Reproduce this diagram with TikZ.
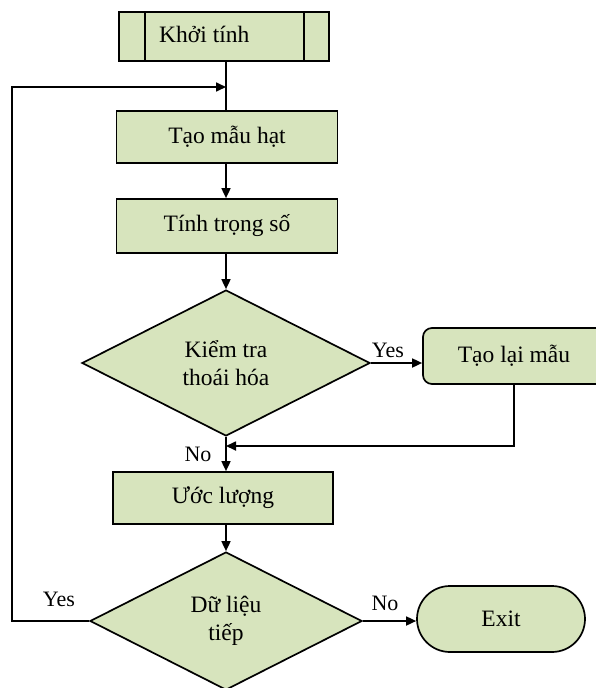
\documentclass[tikz,border=0pt]{standalone}
\usepackage{fontspec}
\setmainfont{Liberation Serif}
\usetikzlibrary{shapes.geometric,arrows.meta}
\definecolor{boxfill}{HTML}{D7E4BD}
\tikzset{
  txt/.style={font=\fontsize{23.5}{28}\selectfont},
  proc/.style={draw=black, line width=1.7pt, fill=boxfill, inner sep=0pt, txt},
  dec/.style={diamond, draw=black, line width=1.7pt, fill=boxfill, inner sep=0pt, aspect=2, align=center, txt},
  conn/.style={line width=1.7pt, -{Triangle[length=10pt,width=9pt]}},
  plain/.style={line width=1.7pt},
  lbl/.style={font=\fontsize{22}{24}\selectfont, inner sep=0pt}
}
\begin{document}
\begin{tikzpicture}[x=1pt,y=-1pt]
\clip (0,0) rectangle (596,688);
\fill[white] (0,0) rectangle (596,688);
% nodes
\node[proc, minimum width=210pt, minimum height=49pt] (k) at (224,36.5) {};
\node[txt, anchor=west, inner sep=0pt] (kt) at (159,34) {Khởi tính};
\node[proc, minimum width=221pt, minimum height=52pt] (m) at (227,137) {Tạo mẫu hạt};
\node[proc, minimum width=221pt, minimum height=54pt] (w) at (227,226) {Tính trọng số};
\node[dec, minimum width=288pt, minimum height=146pt] (d1) at (226,363) {Kiểm tra\\thoái hóa};
\node[proc, rounded corners=9pt, minimum width=182pt, minimum height=56pt] (t) at (514,356) {Tạo lại mẫu};
\node[proc, minimum width=220pt, minimum height=52pt] (u) at (223,498) {Ước lượng};
\node[dec, minimum width=272pt, minimum height=138pt] (d2) at (226,621) {Dữ liệu\\tiếp};
\node[proc, rounded corners=33pt, minimum width=168pt, minimum height=66pt] (e) at (501,619) {Exit};
% inner bars of start box
\draw[plain] ([xshift=27pt]k.north west) -- ([xshift=27pt]k.south west);
\draw[plain] ([xshift=-26pt]k.north east) -- ([xshift=-26pt]k.south east);
% helper coordinates
\coordinate (j) at (226,87);
\coordinate (lft) at (12,87);
\coordinate (r) at (226,446);
% connectors
\draw[plain] (k.south -| j) -- (m.north -| j);
\draw[conn] (m.south -| j) -- (w.north -| j);
\draw[conn] (w.south -| j) -- (d1.north);
\draw[conn] (d1.east) -- (d1.east -| t.west);
\draw[conn] (d1.south) -- (u.north -| j);
\draw[conn] (t.south) -- (t.south |- r) -- (r);
\draw[conn] (u.south -| j) -- (d2.north);
\draw[conn] (d2.east) -- (d2.east -| e.west);
\draw[conn] (d2.west) -| (lft) -- (j);
% labels
\node[lbl] (y1) at (388,350) {Yes};
\node[lbl] (n1) at (198,454) {No};
\node[lbl] (y2) at (59,599) {Yes};
\node[lbl] (n2) at (385,603) {No};
\end{tikzpicture}
\end{document}
